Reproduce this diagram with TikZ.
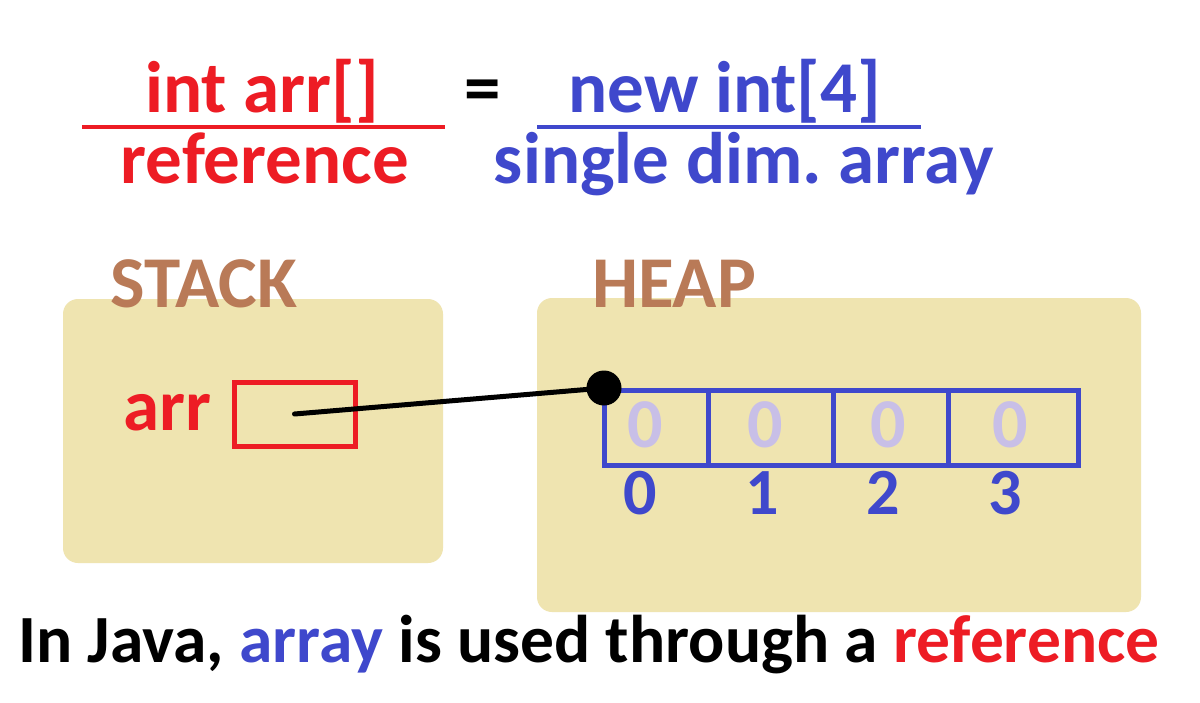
\documentclass[tikz,border=0pt]{standalone}
\usepackage{fontspec}
\setmainfont{Carlito}
\frenchspacing
\definecolor{pred}{HTML}{ED1C24}
\definecolor{pblue}{HTML}{3F48CC}
\definecolor{pbrown}{HTML}{B97A57}
\definecolor{ptan}{HTML}{EFE4B0}
\definecolor{plav}{HTML}{C8BFE7}
\begin{document}
\begin{tikzpicture}[x=1pt,y=-1pt,
  txt/.style={inner sep=0pt, anchor=base, font=\bfseries\fontsize{73}{73}\selectfont},
  memo/.style={fill=ptan, rounded corners=15pt, inner sep=0pt},
  cell/.style={draw=pblue, line width=5pt, minimum height=75pt, inner sep=0pt},
  gz/.style={inner sep=0pt, anchor=base, text=plav, font=\bfseries\fontsize{70}{70}\selectfont},
  idx/.style={inner sep=0pt, anchor=base, text=pblue, font=\bfseries\fontsize{66}{66}\selectfont}]
\useasboundingbox (0,0) rectangle (1200,702);
\fill[white] (0,0) rectangle (1200,702);
% header
\node[txt, text=pred] (decl) at (262,112) {int arr[]};
\draw[pred, line width=4.5pt] (82,127) -- (445,127);
\node[txt, text=pred] (ref) at (265,183) {reference};
\node[txt] (eq) at (483,112) {=};
\node[txt, text=pblue] (newint) at (725,112) {new int[4]};
\draw[pblue, line width=4.5pt] (537,127) -- (921,127);
\node[txt, text=pblue] (single) at (744,183) {single dim. array};
% memory areas
\node[memo, minimum width=380pt, minimum height=264pt] (stack) at (253,431) {};
\node[memo, minimum width=604pt, minimum height=314pt] (heap) at (839,455) {};
\node[txt, text=pbrown] (stacklbl) at (204,307) {STACK};
\node[txt, text=pbrown] (heaplbl) at (674,307) {HEAP};
% stack content
\node[txt, text=pred] (arr) at (167,430) {arr};
\node[draw=pred, line width=5pt, minimum width=121pt, minimum height=64pt, inner sep=0pt] (arrbox) at (294.5,414) {};
% array
\node[cell, minimum width=104pt] (c0) at (656,427.5) {};
\node[cell, minimum width=125pt] (c1) at (770.5,427.5) {};
\node[cell, minimum width=115pt] (c2) at (890.5,427.5) {};
\node[cell, minimum width=130pt] (c3) at (1013,427.5) {};
\node[gz] (z0) at (645,447) {0};
\node[gz] (z1) at (765,447) {0};
\node[gz] (z2) at (888,447) {0};
\node[gz] (z3) at (1010,447) {0};
\node[idx] (i0) at (640,514) {0};
\node[idx] (i1) at (762,514) {1};
\node[idx] (i2) at (883,514) {2};
\node[idx] (i3) at (1005,514) {3};
% reference
\node[circle, fill=black, minimum size=35pt, inner sep=0pt] (dot) at (604,388) {};
\draw[line width=5pt, line cap=round] (arrbox.center) -- (dot.center);
% caption
\node[inner sep=0pt, anchor=base west, font=\bfseries\fontsize{67.5}{67.5}\selectfont] (cap) at (18,662)
  {In Java, \textcolor{pblue}{array} is used through a \textcolor{pred}{reference}};
\end{tikzpicture}
\end{document}
